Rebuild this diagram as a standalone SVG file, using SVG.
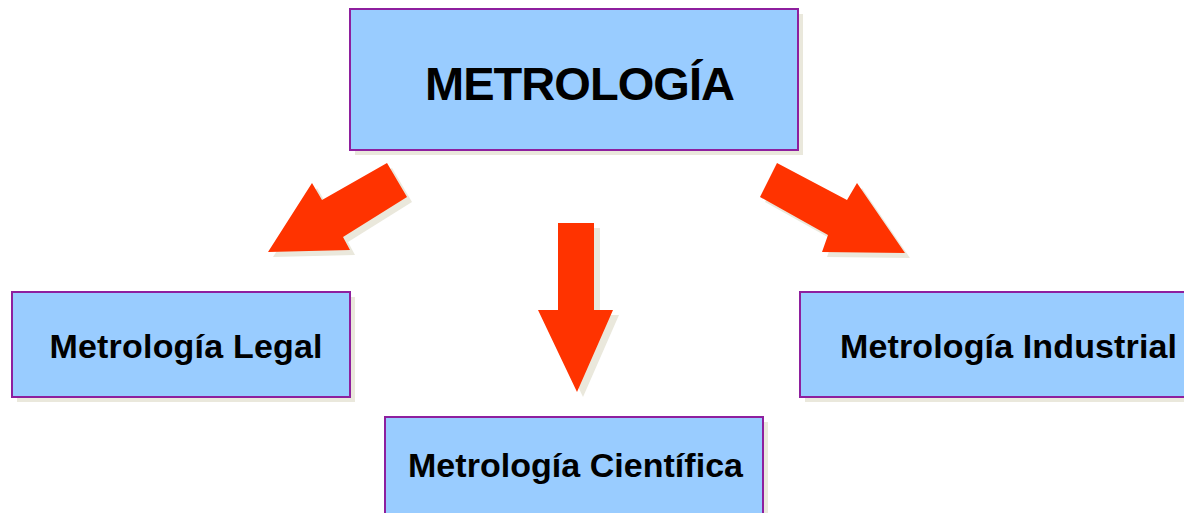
<svg xmlns="http://www.w3.org/2000/svg" width="1184" height="513" viewBox="0 0 1184 513">
<style>
.box{fill:#99CCFF;stroke:#8E1F9E;stroke-width:2}
.shadow{fill:#EAE8DC}
.arrow{fill:#FF3300}
.ashadow{fill:#EAE8DC}
.t{font-family:"Liberation Sans",Arial,sans-serif;font-weight:bold;fill:#000}
</style>
<rect width="1184" height="513" fill="#FFFFFF"/>
<g id="connectors">
  <g id="arrow-left">
    <polygon class="ashadow" transform="translate(5,5)" points="387,163 322,200 312,183 268,252 350,250 343,237 407,197"/>
    <polygon class="arrow" points="387,163 322,200 312,183 268,252 350,250 343,237 407,197"/>
  </g>
  <g id="arrow-down">
    <polygon class="ashadow" transform="translate(6,5)" points="558,223 594,223 594,310 613,310 577,392 538,310 558,310"/>
    <polygon class="arrow" points="558,223 594,223 594,310 613,310 577,392 538,310 558,310"/>
  </g>
  <g id="arrow-right">
    <polygon class="ashadow" transform="translate(5,5)" points="777,163 847,200 857,183 905,253 822,252 828,235 760,197"/>
    <polygon class="arrow" points="777,163 847,200 857,183 905,253 822,252 828,235 760,197"/>
  </g>
</g>
<g id="node-metrologia">
  <rect class="shadow" x="355" y="14" width="448" height="141"/>
  <rect class="box" x="350" y="9" width="448" height="141"/>
  <text class="t" x="580" y="100" font-size="47" text-anchor="middle" textLength="310">METROLOGÍA</text>
</g>
<g id="node-legal">
  <rect class="shadow" x="17" y="297" width="338" height="105"/>
  <rect class="box" x="12" y="292" width="338" height="105"/>
  <text class="t" x="186" y="358" font-size="34" text-anchor="middle" textLength="273">Metrología Legal</text>
</g>
<g id="node-industrial">
  <rect class="shadow" x="805" y="297" width="400" height="105"/>
  <rect class="box" x="800" y="292" width="400" height="105"/>
  <text class="t" x="840" y="358" font-size="34" textLength="337">Metrología Industrial</text>
</g>
<g id="node-cientifica">
  <rect class="shadow" x="390" y="422" width="378" height="110"/>
  <rect class="box" x="385" y="417" width="378" height="110"/>
  <text class="t" x="408" y="477" font-size="34" textLength="335">Metrología Científica</text>
</g>
</svg>
